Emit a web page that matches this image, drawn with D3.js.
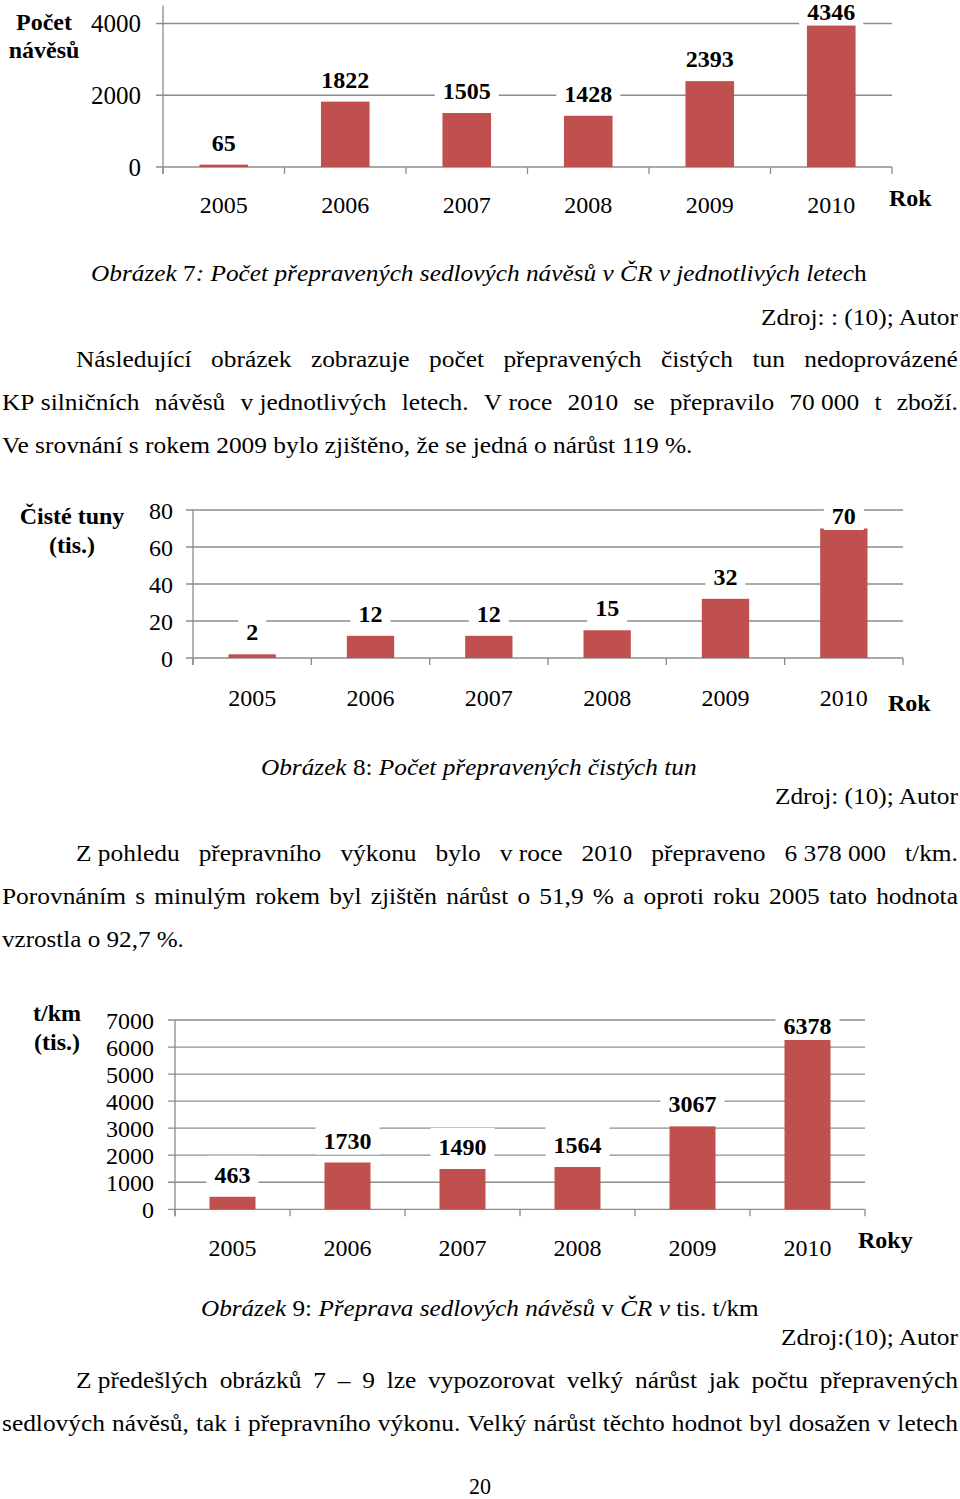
<!DOCTYPE html>
<html>
<head>
<meta charset="utf-8">
<script src="https://cdn.jsdelivr.net/npm/d3@7"></script>
<style>
  html, body { margin: 0; padding: 0; background: #fff; }
  svg { display: block; }
</style>
</head>
<body>
<svg id="page" width="960" height="1499"></svg>
<script>
// ---------------- data ----------------
const years = ["2005", "2006", "2007", "2008", "2009", "2010"];
const trailers = [65, 1822, 1505, 1428, 2393, 4346];      // Obrázek 7
const netTonnes = [2, 12, 12, 15, 32, 70];                 // Obrázek 8 (tis. t)
const tonneKm = [463, 1730, 1490, 1564, 3067, 6378];       // Obrázek 9 (tis. t/km)
const ticks1 = [0, 2000, 4000];
const ticks2 = [0, 20, 40, 60, 80];
const ticks3 = [0, 1000, 2000, 3000, 4000, 5000, 6000, 7000];

const FONT = '"Liberation Serif"';
const svg = d3.select("#page");
const BAR = "#C0504D";
const GRID = "#8c8c8c";

function txt(sel) { return sel.append("text").style("font-family", FONT).attr("fill", "#000"); }

// ---------------- chart helper ----------------
function barChart(o) {
  const g = svg.append("g");
  const x = d3.scaleBand().domain(years).range([o.x0, o.x1]).paddingInner(0.6).paddingOuter(0.3);
  const y = d3.scaleLinear().domain([0, o.max]).range([o.y0, o.yTop]);
  const step = x.step();

  g.selectAll(".grid").data(o.ticks).enter().append("line")
    .attr("x1", o.x0 - 7).attr("x2", o.x1)
    .attr("y1", d => y(d)).attr("y2", d => y(d))
    .attr("stroke", GRID).attr("stroke-width", 1.3);
  g.append("line").attr("x1", o.x0).attr("x2", o.x0)
    .attr("y1", y(o.max)).attr("y2", o.y0 + 7)
    .attr("stroke", GRID).attr("stroke-width", 1.3);
  const bounds = d3.range(years.length + 1).map(i => o.x0 + i * step);
  g.selectAll(".xt").data(bounds).enter().append("line")
    .attr("x1", d => d).attr("x2", d => d)
    .attr("y1", o.y0).attr("y2", o.y0 + 7)
    .attr("stroke", GRID).attr("stroke-width", 1.3);
  o.ticks.forEach(d => {
    txt(g).attr("x", o.tickRight).attr("y", y(d) + 8.5)
      .attr("text-anchor", "end").attr("font-size", o.tickSize).text(d);
  });
  years.forEach(d => {
    txt(g).attr("x", x(d) + x.bandwidth() / 2).attr("y", o.yearY)
      .attr("text-anchor", "middle").attr("font-size", 24).text(d);
  });
  g.selectAll(".bar").data(o.values).enter().append("rect")
    .attr("x", (d, i) => x(years[i])).attr("width", x.bandwidth())
    .attr("y", d => y(d)).attr("height", d => o.y0 - y(d))
    .attr("fill", BAR);
  o.values.forEach((d, i) => {
    const cx = x(years[i]) + x.bandwidth() / 2;
    const by = Math.max(y(d) - 14, y(o.max) + 14);
    const sel = g.append("g");
    const rect = sel.append("rect").attr("fill", "#fff");
    const t = txt(sel).attr("x", cx).attr("y", by)
      .attr("text-anchor", "middle").attr("font-size", 24).attr("font-weight", "bold")
      .text(d);
    const w = t.node().getComputedTextLength();
    rect.attr("x", cx - w / 2 - 8).attr("width", w + 16)
      .attr("y", by - 27).attr("height", 33);
  });
  o.yTitle.forEach(tt => {
    txt(g).attr("x", tt[0]).attr("y", tt[1]).attr("text-anchor", "middle")
      .attr("font-size", 24).attr("font-weight", "bold").text(tt[2]);
  });
  txt(g).attr("x", o.xTitle[0]).attr("y", o.xTitle[1])
    .attr("font-size", 24).attr("font-weight", "bold").text(o.xTitle[2]);
}

barChart({
  x0: 163, x1: 892, y0: 167, yTop: 167 - 4500 * 143.5 / 4000, max: 4500,
  ticks: ticks1, values: trailers, tickRight: 141, yearY: 213, tickSize: 25,
  yTitle: [[44, 30, "Počet"], [44, 58, "návěsů"]], xTitle: [889, 206, "Rok"]
});
barChart({
  x0: 193, x1: 903, y0: 658, yTop: 510, max: 80,
  ticks: ticks2, values: netTonnes, tickRight: 173, yearY: 706, tickSize: 24,
  yTitle: [[72, 524, "Čisté tuny"], [72, 553, "(tis.)"]], xTitle: [888, 711, "Rok"]
});
barChart({
  x0: 175, x1: 865, y0: 1209.3, yTop: 1020, max: 7000,
  ticks: ticks3, values: tonneKm, tickRight: 154, yearY: 1256, tickSize: 24,
  yTitle: [[57, 1021, "t/km"], [57, 1050, "(tis.)"]], xTitle: [858, 1248, "Roky"]
});

// ---------------- body text ----------------
const FS = 24;
const tg = svg.append("g");

function fitLine(parts, x0, x1, yb) {
  const t = txt(tg).attr("font-size", FS).attr("x", 0).attr("y", 0);
  parts.forEach(p => t.append("tspan").attr("font-style", p[1] ? "italic" : "normal")
    .attr("xml:space", "preserve").text(p[0]));
  const w = t.node().getComputedTextLength();
  t.attr("transform", `translate(${x0},${yb}) scale(${(x1 - x0) / w},1)`);
  return w;
}
function naturalWidth(str) {
  const t = txt(tg).attr("font-size", FS).text(str);
  const w = t.node().getComputedTextLength();
  t.remove();
  return w;
}
const refLine = "Ve srovnání s rokem 2009 bylo zjištěno, že se jedná o nárůst 119 %.";
const SX = (693 - 2) / naturalWidth(refLine);

function justify(str, x0, x1, yb) {
  const words = str.split(" ");
  const ws = words.map(w => naturalWidth(w));
  let sx = SX;
  const total = d3.sum(ws);
  if (total * sx + (words.length - 1) * 4 > x1 - x0) sx = (x1 - x0 - (words.length - 1) * 4) / total;
  const gap = (x1 - x0 - total * sx) / (words.length - 1);
  let cx = x0;
  words.forEach((w, i) => {
    txt(tg).attr("font-size", FS)
      .attr("transform", `translate(${cx},${yb}) scale(${sx},1)`).text(w);
    cx += ws[i] * sx + gap;
  });
}
const NB = "\u00a0";

fitLine([["Obrázek ", 1], ["7", 0], [": Počet přepravených sedlových návěsů v ČR v jednotlivých letec", 1], ["h", 0]], 91, 867, 281);
fitLine([["Zdroj: : (10); Autor", 0]], 761, 958, 325);
justify("Následující obrázek zobrazuje počet přepravených čistých tun nedoprovázené", 76, 958, 367);
justify(`KP${NB}silničních návěsů v${NB}jednotlivých letech. V${NB}roce 2010 se přepravilo 70${NB}000 t zboží.`, 2, 958, 410);
fitLine([[refLine, 0]], 2, 693, 453);

fitLine([["Obrázek ", 1], ["8", 0], [": ", 0], ["Počet přepravených čistých tun", 1]], 261, 697, 775);
fitLine([["Zdroj: (10); Autor", 0]], 775, 958, 804);
justify(`Z${NB}pohledu přepravního výkonu bylo v${NB}roce 2010 přepraveno 6${NB}378${NB}000 t/km.`, 76, 958, 861);
justify("Porovnáním s minulým rokem byl zjištěn nárůst o 51,9 % a oproti roku 2005 tato hodnota", 2, 958, 904);
fitLine([["vzrostla o 92,7 %.", 0]], 2, 184, 947);

fitLine([["Obrázek ", 1], ["9", 0], [": ", 0], ["Přeprava sedlových návěsů", 1], [" v ", 0], ["ČR v", 1], [" tis. t/km", 0]], 201, 759, 1316);
fitLine([["Zdroj:(10); Autor", 0]], 781, 958, 1345);
justify(`Z${NB}předešlých obrázků 7 – 9 lze vypozorovat velký nárůst jak počtu přepravených`, 76, 958, 1388);
justify("sedlových návěsů, tak i přepravního výkonu. Velký nárůst těchto hodnot byl dosažen v letech", 2, 958, 1431);
fitLine([["20", 0]], 469, 491, 1494);
</script>
</body>
</html>
